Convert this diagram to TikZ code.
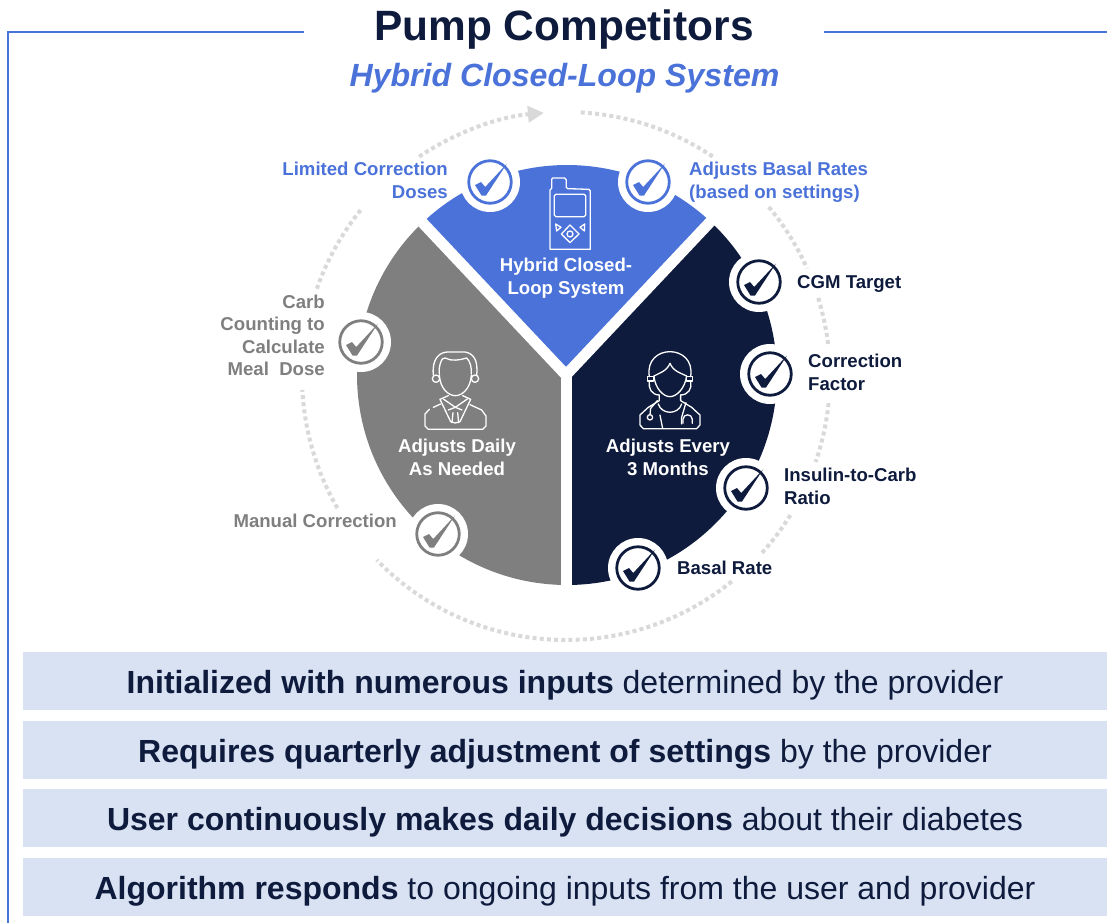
\documentclass[tikz,border=0pt]{standalone}
\usepackage{fontspec}
\setmainfont{Liberation Sans}
\usetikzlibrary{arrows.meta}
\definecolor{pumpblue}{HTML}{4A72D9}
\definecolor{pumpnavy}{HTML}{0E1B3D}
\definecolor{pumpgray}{HTML}{7F7F7F}
\definecolor{ringgray}{HTML}{D9D9D9}
\definecolor{barblue}{HTML}{D9E2F3}
\tikzset{
  pielabel/.style={font=\fontsize{18.6}{23}\selectfont\bfseries, inner sep=0pt},
  rlabel/.style={pielabel, anchor=east, align=right},
  llabel/.style={pielabel, anchor=west, align=left},
  slice/.style={pielabel, text=white, align=center},
  bar/.style={fill=barblue, minimum width=1084pt, minimum height=58pt, inner sep=0pt,
    font=\fontsize{32}{36}\selectfont, text=pumpnavy, text height=28pt, text depth=3pt},
  dotring/.style={draw=ringgray, line width=4pt, dash pattern=on 4pt off 3.2pt},
  icon/.style={draw=white, line width=1.3pt, line join=round, line cap=round, x=0.3333pt, y=-0.3333pt},
  checkbadge/.pic={
    \node[circle, fill=white, minimum size=60pt, inner sep=0pt] (-disc) at (0,0) {};
    \node[circle, draw=#1, line width=2.8pt, minimum size=42.5pt, inner sep=0pt] (-ring) at (0,0) {};
    \fill[#1] (-15,3) -- (-9,0) -- (-4.8,5) -- (17,-18.5) -- (-4,13.5) -- (-8.5,13.5) -- cycle;
  }
}
\begin{document}
\begin{tikzpicture}[x=1pt, y=-1pt]
  \useasboundingbox (0,0) rectangle (1107,923);
  \coordinate (framea) at (304,32);
  \coordinate (frameb) at (8,32);
  \coordinate (framec) at (8,923);
  \coordinate (framed) at (824,32);
  \coordinate (framee) at (1107,32);
  \draw[pumpblue, line width=1.3pt] (framea) -- (frameb) -- (framec);
  \draw[pumpblue, line width=1.3pt] (framed) -- (framee);
  \node[text=pumpnavy, font=\fontsize{42.4}{50}\selectfont\bfseries, inner sep=0pt] (title) at (564,30) {Pump Competitors};
  \node[text=pumpblue, font=\fontsize{32.1}{36}\selectfont\bfseries\itshape, inner sep=0pt] (subtitle) at (564.5,78.5) {Hybrid Closed-Loop System};

  % dotted ring
  \coordinate (c) at (566,376);
  \draw[dotring, -{Triangle[length=16pt, width=16pt, color=ringgray]}] (c) ++(-123.8:264) arc[start angle=-123.8, end angle=-94.8, radius=264];
  \draw[dotring] (c) ++(-86.8:264) arc[start angle=-86.8, end angle=-56, radius=264];
  \draw[dotring] (c) ++(-39.8:264) arc[start angle=-39.8, end angle=-24.1, radius=264];
  \draw[dotring] (c) ++(-17.2:264) arc[start angle=-17.2, end angle=-6.7, radius=264];
  \draw[dotring] (c) ++(5.9:264) arc[start angle=5.9, end angle=19, radius=264];
  \draw[dotring] (c) ++(31.8:264) arc[start angle=31.8, end angle=42.4, radius=264];
  \draw[dotring] (c) ++(51.1:264) arc[start angle=51.1, end angle=135.8, radius=264];
  \draw[dotring] (c) ++(150:264) arc[start angle=150, end angle=177, radius=264];
  \draw[dotring] (c) ++(199.3:264) arc[start angle=199.3, end angle=219.2, radius=264];

  % pie
  \coordinate (o) at (567,375);
  \coordinate (y) at (566,375);
  \fill[pumpblue] (o) -- ++(-133.4:210) arc[start angle=-133.4, end angle=-46.6, radius=210] -- cycle;
  \fill[pumpnavy] (o) -- ++(-46.6:210) arc[start angle=-46.6, end angle=90, radius=210] -- cycle;
  \fill[pumpgray] (o) -- ++(90:210) arc[start angle=90, end angle=226.6, radius=210] -- cycle;
  \coordinate (gapa) at (566,590);
  \coordinate (gapb) at (420,220);
  \coordinate (gapc) at (712,220);
  \begin{scope}[white, line width=11pt]
    \draw (y) -- (gapa);
    \draw (y) -- (gapb);
    \draw (y) -- (gapc);
  \end{scope}

  % pump
  \begin{scope}[shift={(400,90)}]
    \draw[icon] (450,478) -- (450,300) -- (455,295) -- (455,268) -- (458,264) -- (494,264) -- (499,270) -- (499,292) -- (503,296) -- (566,298) -- (571,303) -- (571,478) -- cycle;
    \draw[icon, rounded corners=1.5pt] (463,313) rectangle (557,380);
    \draw[icon] (510,405) -- (537,432) -- (510,458) -- (484,432) -- cycle;
    \draw[icon] (510,432) circle[radius=9];
    \draw[icon] (467,402) -- (483,412) -- (470,423) -- cycle;
    \draw[icon] (554,402) -- (540,412) -- (553,423) -- cycle;
  \end{scope}

  % man
  \begin{scope}[shift={(380,330)}]
    \draw[icon] (160,135) .. controls (155,85) and (180,65) .. (205,66) -- (255,66) .. controls (280,70) and (295,90) .. (290,135);
    \draw[icon] (178,132) .. controls (175,110) and (185,80) .. (195,84) .. controls (215,95) and (240,90) .. (260,84) .. controls (272,95) and (275,115) .. (274,132);
    \draw[icon] (178,135) .. controls (180,175) and (205,197) .. (226,197) .. controls (247,197) and (272,175) .. (274,135);
    \draw[icon] (168,146) circle[radius=11];
    \draw[icon] (285,146) circle[radius=11];
    \draw[icon] (205,197) -- (180,208) -- (212,275) -- (226,279) -- (240,275) -- (272,208) -- (248,197);
    \draw[icon] (190,207) -- (226,232) -- (262,207);
    \draw[icon] (205,240) -- (226,232) -- (246,240);
    \draw[icon] (219,248) -- (216,278);
    \draw[icon] (233,248) -- (236,278);
    \draw[icon] (182,222) -- (160,232);
    \draw[icon] (148,238) -- (135,252) -- (135,288) -- (145,298) -- (308,298) -- (318,288) -- (318,258) -- (305,240) -- (270,224);
  \end{scope}

  % doctor
  \begin{scope}[shift={(380,330)}]
    \draw[icon] (808,140) .. controls (800,90) and (835,65) .. (870,65) .. controls (905,65) and (940,90) .. (932,140);
    \draw[icon] (822,138) .. controls (835,130) and (860,125) .. (870,100) .. controls (880,125) and (905,130) .. (920,138);
    \draw[icon] (822,138) .. controls (825,175) and (850,200) .. (870,200) .. controls (890,200) and (915,175) .. (920,138);
    \draw[icon] (802,140) rectangle (820,153);
    \draw[icon] (920,140) rectangle (938,153);
    \draw[icon] (808,155) .. controls (805,175) and (815,195) .. (838,195);
    \draw[icon] (932,155) .. controls (937,175) and (925,195) .. (902,195);
    \draw[icon] (838,195) -- (838,212) -- (805,232) -- (780,255) -- (780,285) -- (790,296) -- (950,296) -- (960,285) -- (960,255) -- (935,232) -- (902,212) -- (902,195);
    \draw[icon] (835,222) .. controls (845,255) and (895,255) .. (905,222);
    \draw[icon] (832,212) -- (812,235) -- (810,254);
    \draw[icon] (810,262) circle[radius=8];
    \draw[icon] (840,255) -- (848,295);
    \draw[icon] (918,218) -- (905,262) -- (905,282);
    \draw[icon] (909,280) -- (909,268) .. controls (910,250) and (936,250) .. (937,268) -- (937,280);
  \end{scope}

  \pic (limited) at (490,182) {checkbadge=pumpblue};
  \pic (adjbasal) at (648,182) {checkbadge=pumpblue};
  \pic (cgm) at (759,282) {checkbadge=pumpnavy};
  \pic (corr) at (770,374) {checkbadge=pumpnavy};
  \pic (ratio) at (746,488) {checkbadge=pumpnavy};
  \pic (basal) at (638,568) {checkbadge=pumpnavy};
  \pic (carb) at (361,342) {checkbadge=pumpgray};
  \pic (manual) at (438,534) {checkbadge=pumpgray};

  \node[slice] (hybrid) at (566,278.5) {Hybrid Closed-\\Loop System};
  \node[slice] (daily) at (457,457) {Adjusts Daily\\As Needed};
  \node[slice] (every) at (668,457) {Adjusts Every\\3 Months};

  \node[rlabel, text=pumpblue] (limitedtext) at (448,180.5) {Limited Correction\\Doses};
  \node[llabel, text=pumpblue] (adjbasaltext) at (689,182) {Adjusts Basal Rates\\(based on settings)};
  \node[llabel, text=pumpnavy] (cgmtext) at (797,283.5) {CGM Target};
  \node[llabel, text=pumpnavy] (corrtext) at (808,372.5) {Correction\\Factor};
  \node[llabel, text=pumpnavy] (ratiotext) at (784,486.5) {Insulin-to-Carb\\Ratio};
  \node[llabel, text=pumpnavy] (basaltext) at (677,568) {Basal Rate};
  \node[rlabel, text=pumpgray, font=\fontsize{18.6}{22.4}\selectfont\bfseries] (carbtext) at (325,335.5) {Carb\\Counting to\\Calculate\\Meal\ \ Dose};
  \node[rlabel, text=pumpgray] (manualtext) at (397,521) {Manual Correction};

  \node[bar] (bara) at (565,681) {\textbf{Initialized with numerous inputs} determined by the provider};
  \node[bar] (barb) at (565,750) {\textbf{Requires quarterly adjustment of settings} by the provider};
  \node[bar] (barc) at (565,818) {\textbf{User continuously makes daily decisions} about their diabetes};
  \node[bar] (bard) at (565,887) {\textbf{Algorithm responds} to ongoing inputs from the user and provider};
\end{tikzpicture}
\end{document}
